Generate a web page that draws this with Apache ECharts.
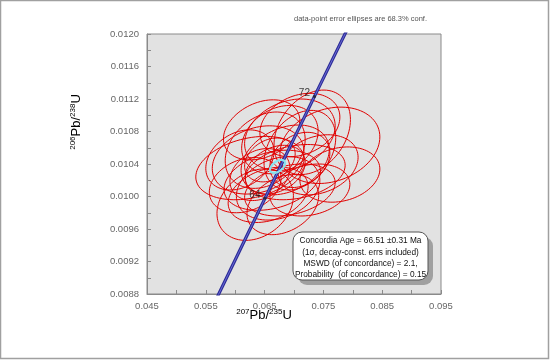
<!DOCTYPE html>
<html>
<head>
<meta charset="utf-8">
<script src="https://cdn.jsdelivr.net/npm/echarts@6/dist/echarts.min.js"></script>
<style>html,body{margin:0;padding:0;background:#fff}#c{width:550px;height:360px}</style>
</head>
<body>
<div id="c"></div>
<script>
// Tick labels
const xTickLabels = ['0.045', '0.055', '0.065', '0.075', '0.085', '0.095'];
const yTickLabels = ['0.0088', '0.0092', '0.0096', '0.0100', '0.0104', '0.0108', '0.0112', '0.0116', '0.0120'];

// Data-point error ellipses: centre (207Pb/235U, 206Pb/238U), 1-sigma extents, correlation
const ellX   = [0.0731, 0.0761, 0.0625, 0.0634, 0.0663, 0.0685, 0.0651, 0.0702, 0.0656, 0.0676, 0.0710, 0.0617, 0.0693, 0.0668, 0.0642, 0.0741, 0.0710, 0.0645, 0.0681, 0.0608, 0.0727, 0.0659, 0.0778, 0.0673, 0.0710, 0.0639, 0.0693];
const ellY   = [0.01079, 0.01063, 0.01035, 0.00990, 0.01020, 0.01045, 0.01057, 0.01030, 0.01002, 0.01070, 0.01057, 0.01014, 0.01008, 0.01033, 0.01027, 0.01039, 0.01088, 0.01082, 0.00990, 0.01045, 0.01008, 0.01045, 0.01027, 0.01010, 0.01045, 0.01045, 0.01076];
const ellSX  = [0.0065, 0.0085, 0.0092, 0.0065, 0.0082, 0.0075, 0.0068, 0.0085, 0.0068, 0.0065, 0.0061, 0.0061, 0.0077, 0.0051, 0.0051, 0.0068, 0.0068, 0.0065, 0.0061, 0.0058, 0.0068, 0.0043, 0.0068, 0.0071, 0.0051, 0.0078, 0.0077];
const ellSY  = [0.00052, 0.00047, 0.00039, 0.00044, 0.00037, 0.00043, 0.00047, 0.00034, 0.00034, 0.00042, 0.00049, 0.00034, 0.00032, 0.00030, 0.00032, 0.00037, 0.00039, 0.00037, 0.00037, 0.00037, 0.00032, 0.00027, 0.00034, 0.00039, 0.00034, 0.00042, 0.00044];
const ellRho = [0.30, 0.22, 0.28, 0.25, 0.30, 0.30, 0.28, 0.25, 0.30, 0.25, 0.32, 0.25, 0.28, 0.30, 0.25, 0.25, 0.25, 0.30, 0.30, 0.28, 0.22, 0.28, 0.20, 0.25, 0.25, 0.25, 0.25];

// Concordia curve points (age in Ma)
const concAges = [56, 60, 64, 68, 72, 76, 78];
const concX = [0.056701, 0.060872, 0.065059, 0.069263, 0.073484, 0.077721, 0.079846];
const concY = [0.008725, 0.009351, 0.009977, 0.010605, 0.011232, 0.011860, 0.012173];
const labelAges = [64, 72];

// Concordia age ellipse
const concordiaEll = [0.0672, 0.01037, 0.00128, 0.00008, 0.5];

const chart = echarts.init(document.getElementById('c'), null, {renderer: 'canvas'});

function ellipseRender(stroke, width) {
  return function (params, api) {
    const cx = api.value(0), cy = api.value(1), sx = api.value(2), sy = api.value(3), r = api.value(4);
    const q = Math.sqrt(1 - r * r);
    const pts = [];
    for (let k = 0; k <= 90; k++) {
      const t = 2 * Math.PI * k / 90;
      pts.push(api.coord([cx + sx * Math.cos(t), cy + sy * (r * Math.cos(t) + q * Math.sin(t))]));
    }
    return {type: 'polygon', shape: {points: pts}, style: {fill: 'none', stroke: stroke, lineWidth: width}};
  };
}

const ellData = ellX.map((x, i) => [x, ellY[i], ellSX[i], ellSY[i], ellRho[i]]);
const concData = concX.map((x, i) => [x, concY[i]]);
const labelData = labelAges.map(a => { const i = concAges.indexOf(a); return [concX[i], concY[i], String(a)]; });

const supStyle = {fontSize: 8, fontFamily: 'Liberation Sans', color: '#444', padding: [0, 0, 7, 0]};
const mainStyle = {fontSize: 13, fontFamily: 'Liberation Sans', color: '#444'};

chart.setOption({
  animation: false,
  backgroundColor: '#fff',
  grid: {left: 147, top: 34, width: 294, height: 260, show: true, backgroundColor: '#e2e2e2', borderColor: '#8a8a8a', borderWidth: 1},
  xAxis: {
    type: 'value', min: 0.045, max: 0.095, interval: 0.005,
    axisLine: {show: true, lineStyle: {color: '#8a8a8a'}},
    axisTick: {show: true, inside: true, length: 4, lineStyle: {color: '#8a8a8a'}},
    splitLine: {show: false},
    axisLabel: {margin: 7, fontSize: 9.5, fontFamily: 'Liberation Sans', color: '#666',
      formatter: v => { const s = v.toFixed(3); return xTickLabels.includes(s) ? s : ''; }}
  },
  yAxis: {
    type: 'value', min: 0.0088, max: 0.0120, interval: 0.0002,
    axisLine: {show: true, lineStyle: {color: '#8a8a8a'}},
    axisTick: {show: true, inside: true, length: 4, lineStyle: {color: '#8a8a8a'}},
    splitLine: {show: false},
    axisLabel: {margin: 8, fontSize: 9.5, fontFamily: 'Liberation Sans', color: '#666',
      formatter: v => { const s = v.toFixed(4); return yTickLabels.includes(s) ? s : ''; }}
  },
  series: [
    {type: 'custom', coordinateSystem: 'cartesian2d', renderItem: ellipseRender('#e00000', 1), data: ellData, z: 2, encode: {x: 0, y: 1}},
    {type: 'line', data: concData, symbol: 'none', lineStyle: {color: '#2c2c98', width: 3.2}, z: 3, clip: true},
    {type: 'line', data: concData, symbol: 'none', lineStyle: {color: '#6a6ad2', width: 1}, z: 4, clip: true},
    {type: 'custom', coordinateSystem: 'cartesian2d', renderItem: ellipseRender('#86e2ee', 2.2), data: [concordiaEll], z: 5, encode: {x: 0, y: 1}},
    {type: 'scatter', data: labelData, symbolSize: 3, itemStyle: {color: '#222'}, z: 6,
      label: {show: true, position: 'left', distance: 3, offset: [0, -3], formatter: p => p.value[2], fontSize: 10, fontFamily: 'Liberation Sans', color: '#111'}}
  ],
  graphic: [
    {type: 'rect', shape: {x: 0.5, y: 0.5, width: 548, height: 358}, style: {fill: 'none', stroke: '#a0a0a0', lineWidth: 1.5}, z: 0, silent: true},
    {type: 'text', x: 427, y: 19, style: {text: 'data-point error ellipses are 68.3% conf.', fontSize: 7.5, fontFamily: 'Liberation Sans', fill: '#555', align: 'right', verticalAlign: 'middle'}},
    {type: 'text', x: 264, y: 315, style: {text: '{s|207}{m|Pb/}{s|235}{m|U}', align: 'center', verticalAlign: 'middle', rich: {s: supStyle, m: mainStyle}}},
    {type: 'text', x: 76, y: 122, rotation: Math.PI / 2, style: {text: '{s|206}{m|Pb/}{s|238}{m|U}', align: 'center', verticalAlign: 'middle', rich: {s: supStyle, m: mainStyle}}},
    {type: 'rect', shape: {x: 298, y: 237, width: 135, height: 48, r: 9}, style: {fill: '#a0a0a0'}, z: 10},
    {type: 'rect', shape: {x: 293, y: 232, width: 135, height: 48, r: 9}, style: {fill: '#fff', stroke: '#555', lineWidth: 1}, z: 11},
    {type: 'text', x: 360.5, y: 241, z: 12, style: {text: 'Concordia Age = 66.51 \u00b10.31 Ma', fontSize: 8.3, fontFamily: 'Liberation Sans', fill: '#111', align: 'center', verticalAlign: 'middle'}},
    {type: 'text', x: 360.5, y: 252.5, z: 12, style: {text: '(1\u03c3, decay-const. errs included)', fontSize: 8.3, fontFamily: 'Liberation Sans', fill: '#111', align: 'center', verticalAlign: 'middle'}},
    {type: 'text', x: 360.5, y: 264, z: 12, style: {text: 'MSWD (of concordance) = 2.1,', fontSize: 8.3, fontFamily: 'Liberation Sans', fill: '#111', align: 'center', verticalAlign: 'middle'}},
    {type: 'text', x: 360.5, y: 275, z: 12, style: {text: 'Probability  (of concordance) = 0.15', fontSize: 8.3, fontFamily: 'Liberation Sans', fill: '#111', align: 'center', verticalAlign: 'middle'}}
  ]
});
</script>
</body>
</html>
